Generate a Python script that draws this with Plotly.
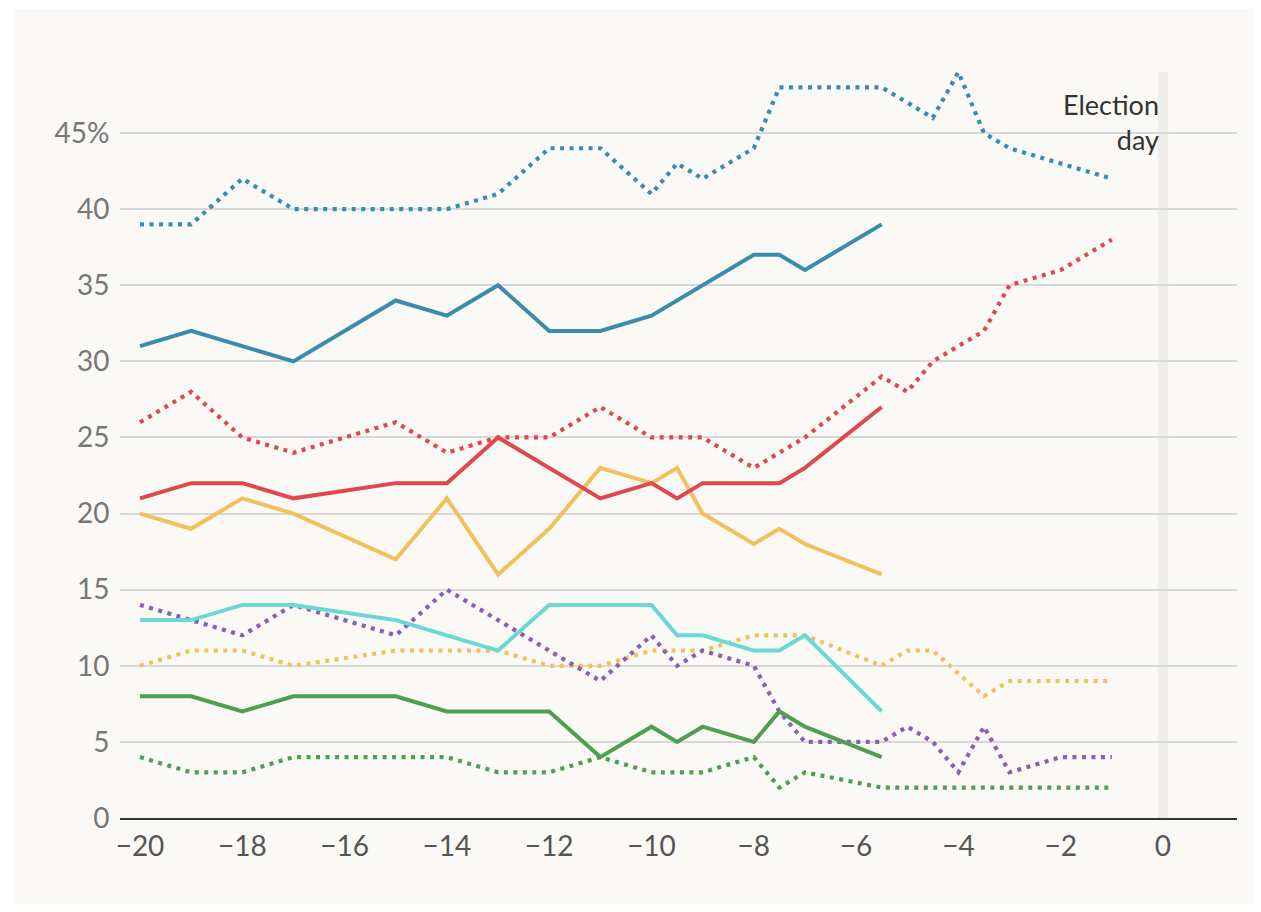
import plotly.graph_objects as go

# ---- data (weeks before election, % share) ----
blue_dot_x = [-20, -19, -18, -17, -16, -15, -14, -13, -12, -11, -10, -9.5, -9, -8, -7.5, -7, -6, -5.5, -4.5, -4, -3.5, -3, -2, -1]
blue_dot_y = [39, 39, 42, 40, 40, 40, 40, 41, 44, 44, 41, 43, 42, 44, 48, 48, 48, 48, 46, 49, 45, 44, 43, 42]

blue_x = [-20, -19, -18, -17, -15, -14, -13, -12, -11, -10, -8, -7.5, -7, -5.5]
blue_y = [31, 32, 31, 30, 34, 33, 35, 32, 32, 33, 37, 37, 36, 39]

red_dot_x = [-20, -19, -18, -17, -15, -14, -13, -12, -11, -10, -9, -8, -7.5, -7, -5.5, -5, -4.5, -4, -3.5, -3, -2, -1]
red_dot_y = [26, 28, 25, 24, 26, 24, 25, 25, 27, 25, 25, 23, 24, 25, 29, 28, 30, 31, 32, 35, 36, 38]

red_x = [-20, -19, -18, -17, -15, -14, -13, -12, -11, -10, -9.5, -9, -8, -7.5, -7, -5.5]
red_y = [21, 22, 22, 21, 22, 22, 25, 23, 21, 22, 21, 22, 22, 22, 23, 27]

yellow_x = [-20, -19, -18, -17, -15, -14, -13, -12, -11, -10, -9.5, -9, -8, -7.5, -7, -5.5]
yellow_y = [20, 19, 21, 20, 17, 21, 16, 19, 23, 22, 23, 20, 18, 19, 18, 16]

cyan_x = [-20, -19, -18, -17, -15, -14, -13, -12, -11, -10, -9.5, -9, -8, -7.5, -7, -5.5]
cyan_y = [13, 13, 14, 14, 13, 12, 11, 14, 14, 14, 12, 12, 11, 11, 12, 7]

purple_dot_x = [-20, -19, -18, -17, -15, -14, -13, -12, -11, -10, -9.5, -9, -8, -7.5, -7, -5.5, -5, -4.5, -4, -3.5, -3, -2, -1]
purple_dot_y = [14, 13, 12, 14, 12, 15, 13, 11, 9, 12, 10, 11, 10, 7, 5, 5, 6, 5, 3, 6, 3, 4, 4]

yellow_dot_x = [-20, -19, -18, -17, -15, -14, -13, -12, -11, -10, -9, -8, -7, -5.5, -5, -4.5, -3.5, -3, -2, -1]
yellow_dot_y = [10, 11, 11, 10, 11, 11, 11, 10, 10, 11, 11, 12, 12, 10, 11, 11, 8, 9, 9, 9]

green_x = [-20, -19, -18, -17, -15, -14, -13, -12, -11, -10, -9.5, -9, -8, -7.5, -7, -5.5]
green_y = [8, 8, 7, 8, 8, 7, 7, 7, 4, 6, 5, 6, 5, 7, 6, 4]

green_dot_x = [-20, -19, -18, -17, -14, -13, -12, -11, -10, -9, -8, -7.5, -7, -5.5, -4, -3, -2, -1]
green_dot_y = [4, 3, 3, 4, 4, 3, 3, 4, 3, 3, 4, 2, 3, 2, 2, 2, 2, 2]

x_ticks = [-20, -18, -16, -14, -12, -10, -8, -6, -4, -2, 0]
y_ticks = [0, 5, 10, 15, 20, 25, 30, 35, 40, 45]
y_tick_text = ["0", "5", "10", "15", "20", "25", "30", "35", "40", "45%"]

BLUE = "#3b8bae"
RED = "#e0474f"
YELLOW = "#f0c25e"
CYAN = "#6ad8d3"
PURPLE = "#8b5db3"
GREEN = "#4f9f51"
DOT = "4px,5.5px"

series = [
    (yellow_dot_x, yellow_dot_y, YELLOW, DOT),
    (green_dot_x, green_dot_y, GREEN, DOT),
    (purple_dot_x, purple_dot_y, PURPLE, DOT),
    (red_dot_x, red_dot_y, RED, DOT),
    (blue_dot_x, blue_dot_y, BLUE, DOT),
    (green_x, green_y, GREEN, "solid"),
    (cyan_x, cyan_y, CYAN, "solid"),
    (yellow_x, yellow_y, YELLOW, "solid"),
    (red_x, red_y, RED, "solid"),
    (blue_x, blue_y, BLUE, "solid"),
]

fig = go.Figure()
for xs, ys, col, dash in series:
    fig.add_trace(go.Scatter(
        x=xs, y=ys, mode="lines",
        line=dict(color=col, width=4 if dash == "solid" else 4.2, dash=dash),
        hoverinfo="skip", showlegend=False,
    ))

# page is offset by the 8px body margin
OFF = 8
W, H = 1245, 896
L, T = 120 - OFF, 72 - OFF
R = W - (1237 - OFF)
B = H - (818 - OFF)
pw, ph = W - L - R, H - T - B

def px_to_paper_x(px):
    return (px - OFF - L) / pw

def px_to_paper_y(py):
    return (H - B - (py - OFF)) / ph

shapes = [
    dict(type="rect", xref="paper", yref="paper",
         x0=px_to_paper_x(13), x1=px_to_paper_x(1255),
         y0=px_to_paper_y(906), y1=px_to_paper_y(9),
         fillcolor="#faf9f5", line=dict(width=0), layer="below"),
    dict(type="rect", xref="x", yref="paper", x0=-0.1, x1=0.1, y0=0, y1=1,
         fillcolor="#efedea", line=dict(width=0), layer="below"),
]

fig.update_layout(
    width=W, height=H,
    margin=dict(l=L, r=R, t=T, b=B, pad=0),
    paper_bgcolor="white",
    plot_bgcolor="rgba(0,0,0,0)",
    font=dict(family="Lato, 'Open Sans', sans-serif", size=28, color="#666"),
    shapes=shapes,
    annotations=[dict(
        x=-0.04, y=48.1, xref="x", yref="y", xanchor="right", yanchor="top",
        text="Election<br>day", showarrow=False, align="right",
        font=dict(family="Lato, sans-serif", size=27, color="#333"),
    )],
    xaxis=dict(
        range=[-20.391, 1.447], tickvals=x_ticks, showgrid=False, zeroline=False,
        showline=True, linecolor="#333", linewidth=2,
        ticks="outside", ticklen=2, tickcolor="rgba(0,0,0,0)",
        tickfont=dict(size=28, color="#555"),
    ),
    yaxis=dict(
        range=[0, 49.01], tickvals=y_ticks, ticktext=y_tick_text,
        showgrid=True, gridcolor="#d8d8d8", gridwidth=1.5, zeroline=False,
        ticks="outside", ticklen=4, tickcolor="rgba(0,0,0,0)",
        tickfont=dict(size=28, color="#777"),
    ),
)

fig.write_html("out.html")
